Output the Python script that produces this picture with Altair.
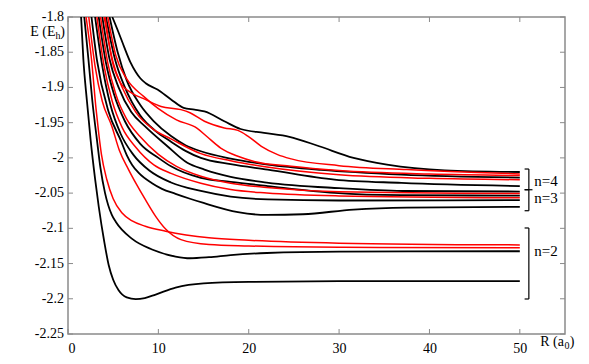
import altair as alt
import pandas as pd

# ---- black curves (x in a0, E in Eh) ----
k1_x = [4.9, 5.6, 6.2, 6.9, 7.5, 8.0, 8.6, 9.9, 11.4, 12.8, 14.0, 15.1, 17.3, 19.1, 21.7, 24.5, 27.8, 31.6, 35.3, 41.7, 50]
k1_y = [-1.8, -1.822, -1.842, -1.864, -1.878, -1.887, -1.894, -1.903, -1.917, -1.929, -1.9315, -1.934, -1.948, -1.959, -1.9645, -1.970, -1.9835, -2.000, -2.0095, -2.0176, -2.020]
k2_x = [4.6, 5.5, 6.5, 8.0, 9.5, 11.4, 13.0, 14.7, 18.0, 22.1, 28.0, 36.9, 50]
k2_y = [-1.8, -1.85, -1.89, -1.925, -1.948, -1.969, -1.982, -1.9906, -2.001, -2.0095, -2.017, -2.0237, -2.028]
k3_x = [4.2, 5.2, 6.3, 8.0, 9.7, 11.4, 13.0, 14.7, 18.0, 22.1, 29.5, 36.9, 50]
k3_y = [-1.8, -1.86, -1.90, -1.94, -1.962, -1.977, -1.99, -2.000, -2.009, -2.0166, -2.0308, -2.0355, -2.040]
k4_x = [3.8, 4.6, 5.6, 7.0, 8.5, 11.0, 13.2, 15.1, 18.0, 22.0, 30.0, 37.0, 50]
k4_y = [-1.8, -1.86, -1.90, -1.935, -1.955, -1.9835, -2.007, -2.0166, -2.027, -2.035, -2.043, -2.047, -2.0478]
k5_x = [3.4, 4.2, 5.1, 6.3, 8.0, 10.0, 11.4, 14.7, 18.0, 22.1, 29.5, 36.9, 50]
k5_y = [-1.8, -1.865, -1.91, -1.948, -1.98, -2.0, -2.012, -2.0284, -2.034, -2.040, -2.0497, -2.053, -2.0535]
k6_x = [3.0, 3.8, 4.7, 5.8, 7.2, 9.0, 11.4, 14.7, 18.0, 22.1, 30.0, 50]
k6_y = [-1.8, -1.87, -1.925, -1.965, -1.995, -2.018, -2.035, -2.047, -2.055, -2.059, -2.0605, -2.060]
k7_x = [2.6, 3.2, 4.5, 5.9, 6.5, 7.1, 7.8, 9.3, 10.4, 11.9, 13.5, 15.0, 18.8, 22.0, 26.0, 31.6, 37.5, 50]
k7_y = [-1.8, -1.861, -1.935, -1.977, -1.996, -2.010, -2.021, -2.036, -2.044, -2.051, -2.058, -2.064, -2.077, -2.081, -2.080, -2.0733, -2.0705, -2.0695]
k8_x = [1.8, 2.26, 2.7, 3.2, 3.6, 4.1, 4.85, 5.3, 7.1, 9.3, 11.9, 13.5, 15.6, 18.0, 22.0, 30.0, 50]
k8_y = [-1.8, -1.86, -1.92, -1.974, -2.015, -2.05, -2.081, -2.091, -2.115, -2.130, -2.140, -2.1425, -2.141, -2.138, -2.135, -2.133, -2.1325]
k9_x = [1.45, 1.7, 2.1, 2.5, 3.0, 3.4, 4.0, 4.5, 5.0, 5.6, 6.5, 7.5, 8.5, 9.7, 11.9, 15.0, 20.0, 30.0, 50]
k9_y = [-1.8, -1.86, -1.92, -1.974, -2.03, -2.069, -2.118, -2.152, -2.173, -2.188, -2.198, -2.2005, -2.199, -2.194, -2.184, -2.178, -2.176, -2.175, -2.175]

# ---- red curves ----
r1_x = [4.1, 4.85, 5.8, 7.07, 8.55, 10.3, 12.5, 13.5, 15.1, 17.3, 18.8, 19.9, 21.4, 23.2, 24.7, 30.0, 37.5, 50]
r1_y = [-1.8, -1.86, -1.893, -1.908, -1.917, -1.927, -1.9315, -1.936, -1.948, -1.9575, -1.961, -1.969, -1.9835, -1.9953, -2.0014, -2.011, -2.0166, -2.0227]
r2_x = [4.4, 5.3, 6.5, 8.4, 10.0, 12.0, 14.3, 15.4, 16.9, 18.8, 20.6, 24.7, 30.0, 40.0, 50]
r2_y = [-1.8, -1.855, -1.888, -1.913, -1.93, -1.946, -1.958, -1.970, -1.986, -1.9977, -2.005, -2.012, -2.018, -2.023, -2.025]
r3_x = [4.0, 5.0, 6.0, 7.5, 9.5, 11.4, 14.7, 18.0, 22.0, 30.0, 40.0, 50]
r3_y = [-1.8, -1.865, -1.90, -1.935, -1.96, -1.973, -1.994, -2.004, -2.013, -2.024, -2.029, -2.031]
r4_x = [3.6, 4.4, 5.3, 6.5, 8.0, 10.0, 12.0, 14.7, 18.0, 22.0, 30.0, 50]
r4_y = [-1.8, -1.865, -1.91, -1.945, -1.97, -1.995, -2.012, -2.026, -2.036, -2.042, -2.048, -2.0506]
r5_x = [3.2, 4.0, 4.9, 6.0, 7.5, 9.5, 11.4, 14.7, 18.0, 22.0, 30.0, 50]
r5_y = [-1.8, -1.87, -1.92, -1.957, -1.985, -2.01, -2.022, -2.036, -2.045, -2.05, -2.054, -2.0567]
r6_x = [2.3, 3.0, 3.8, 4.85, 5.7, 6.7, 7.6, 8.55, 9.7, 10.8, 12.5, 15.6, 20.0, 30.0, 50]
r6_y = [-1.8, -1.87, -1.92, -1.955, -1.99, -2.0166, -2.038, -2.059, -2.083, -2.101, -2.116, -2.123, -2.125, -2.127, -2.1276]
r7_x = [2.0, 2.6, 3.1, 3.4, 3.7, 4.3, 5.0, 5.96, 7.1, 8.55, 10.8, 15.6, 20.0, 30.0, 50]
r7_y = [-1.8, -1.86, -1.93, -1.965, -1.995, -2.031, -2.058, -2.078, -2.0895, -2.097, -2.104, -2.1135, -2.117, -2.121, -2.1235]

# ---- brackets and labels ----
bracket_top = [-2.0158, -2.0452, -2.0995]
bracket_bottom = [-2.0452, -2.075, -2.2003]
bracket_x = 51.0
bracket_tick_x = 50.53
bracket_mid_y = [-2.0452]
bracket_mid_x2 = 51.4
label_text = ["n=4", "n=3", "n=2"]
label_y = [-2.0324, -2.0565, -2.1318]
label_x = 51.6

x_ticks = [0, 10, 20, 30, 40, 50]
y_ticks = [-2.25, -2.2, -2.15, -2.1, -2.05, -2.0, -1.95, -1.9, -1.85, -1.8]
y_tick_labels = ["-2.25", "-2.2", "-2.15", "-2.1", "-2.05", "-2", "-1.95", "-1.9", "-1.85", "-1.8"]

# axis titles, split so the subscripts can be set smaller and lower
e_title = ["E (E", "h", ")"]
r_title = ["R (a", "0", ")"]

W, H = 497, 317
FONT = "Liberation Serif, Times New Roman, serif"
GRAY = "#8a8a8a"

def curves(names):
    rows = []
    for name, xs, ys in names:
        for i, (x, y) in enumerate(zip(xs, ys)):
            rows.append({"curve": name, "i": i, "R": x, "E": y})
    return pd.DataFrame(rows)

black_df = curves([("k1", k1_x, k1_y), ("k2", k2_x, k2_y), ("k3", k3_x, k3_y),
                   ("k4", k4_x, k4_y), ("k5", k5_x, k5_y), ("k6", k6_x, k6_y),
                   ("k7", k7_x, k7_y), ("k8", k8_x, k8_y), ("k9", k9_x, k9_y)])
red_df = curves([("r1", r1_x, r1_y), ("r2", r2_x, r2_y), ("r3", r3_x, r3_y),
                 ("r4", r4_x, r4_y), ("r5", r5_x, r5_y), ("r6", r6_x, r6_y),
                 ("r7", r7_x, r7_y)])

xs = alt.Scale(domain=[0, 55], nice=False, zero=False)
ys = alt.Scale(domain=[-2.25, -1.8], nice=False, zero=False)

x_axis = alt.Axis(values=x_ticks, title="", grid=False, domain=False, ticks=False, tickSize=0,
                  labelFont=FONT, labelFontSize=14, labelColor="black", labelPadding=7,
                  labelOverlap=False)
y_axis = alt.Axis(values=y_ticks, title="", grid=False, domain=False, ticks=False, tickSize=0,
                  labels=False)

black = alt.Chart(black_df).mark_line(color="black", strokeWidth=1.8, interpolate="monotone", clip=True).encode(
    x=alt.X("R:Q", scale=xs, axis=x_axis),
    y=alt.Y("E:Q", scale=ys, axis=y_axis),
    detail="curve:N",
    order="i:Q",
)
red = alt.Chart(red_df).mark_line(color="#ff0000", strokeWidth=1.5, interpolate="monotone", clip=True).encode(
    x=alt.X("R:Q", scale=xs),
    y=alt.Y("E:Q", scale=ys),
    detail="curve:N",
    order="i:Q",
)

br_df = pd.DataFrame({"top": bracket_top, "bot": bracket_bottom})
br_v = alt.Chart(br_df).mark_rule(color="black", strokeWidth=1.2).encode(
    x=alt.datum(bracket_x, scale=xs), y=alt.Y("top:Q", scale=ys), y2="bot:Q")
ends_df = pd.DataFrame({"y": bracket_top + bracket_bottom})
br_h = alt.Chart(ends_df).mark_rule(color="black", strokeWidth=1.2).encode(
    x=alt.datum(bracket_tick_x, scale=xs), x2=alt.datum(bracket_x), y=alt.Y("y:Q", scale=ys))
mid_df = pd.DataFrame({"y": bracket_mid_y})
br_m = alt.Chart(mid_df).mark_rule(color="black", strokeWidth=1.2).encode(
    x=alt.datum(bracket_x, scale=xs), x2=alt.datum(bracket_mid_x2), y=alt.Y("y:Q", scale=ys))
lab_df = pd.DataFrame({"t": label_text, "y": label_y})
labels = alt.Chart(lab_df).mark_text(font=FONT, fontSize=15, align="left", baseline="middle", color="black").encode(
    x=alt.datum(label_x, scale=xs), y=alt.Y("y:Q", scale=ys), text="t:N")

# y tick labels
ytl_df = pd.DataFrame({"v": y_ticks, "t": y_tick_labels})
ylabels = alt.Chart(ytl_df).mark_text(font=FONT, fontSize=14, align="right", baseline="middle", color="black").encode(
    y=alt.Y("v:Q", scale=ys), x=alt.value(-4), text="t:N")

# axis titles
def title_part(text, x, y, size):
    return alt.Chart(pd.DataFrame({"t": [text]})).mark_text(
        font=FONT, fontSize=size, align="right", baseline="middle", color="black"
    ).encode(x=alt.value(x), y=alt.value(y), text="t:N")

e_parts = [title_part(e_title[0], -12.5, 15, 14), title_part(e_title[1], -7.5, 19, 10),
           title_part(e_title[2], -3, 15, 14)]
r_parts = [title_part(r_title[0], 496, H + 8, 14), title_part(r_title[1], 501.5, H + 12, 10),
           title_part(r_title[2], 506.5, H + 8, 14)]

# inward ticks on all four sides
yt_df = pd.DataFrame({"v": y_ticks})
xt_df = pd.DataFrame({"v": x_ticks})
tl = alt.Chart(yt_df).mark_rule(color=GRAY, strokeWidth=1).encode(
    y=alt.Y("v:Q", scale=ys), x=alt.value(0), x2=alt.value(5))
tr = alt.Chart(yt_df).mark_rule(color=GRAY, strokeWidth=1).encode(
    y=alt.Y("v:Q", scale=ys), x=alt.value(W - 5), x2=alt.value(W))
tb = alt.Chart(xt_df).mark_rule(color=GRAY, strokeWidth=1).encode(
    x=alt.X("v:Q", scale=xs), y=alt.value(H - 5), y2=alt.value(H))
tt = alt.Chart(xt_df).mark_rule(color=GRAY, strokeWidth=1).encode(
    x=alt.X("v:Q", scale=xs), y=alt.value(0), y2=alt.value(5))

chart = alt.layer(black, red, br_v, br_h, br_m, labels, ylabels, *e_parts, *r_parts, tl, tr, tb, tt).properties(
    width=W, height=H,
    autosize=alt.AutoSizeParams(type="none"),
    padding={"left": 60, "top": 9, "right": 16, "bottom": 25},
).configure_view(stroke=GRAY, strokeWidth=1.5)

chart.save("out.html", embed_options={"renderer": "svg", "actions": False})
